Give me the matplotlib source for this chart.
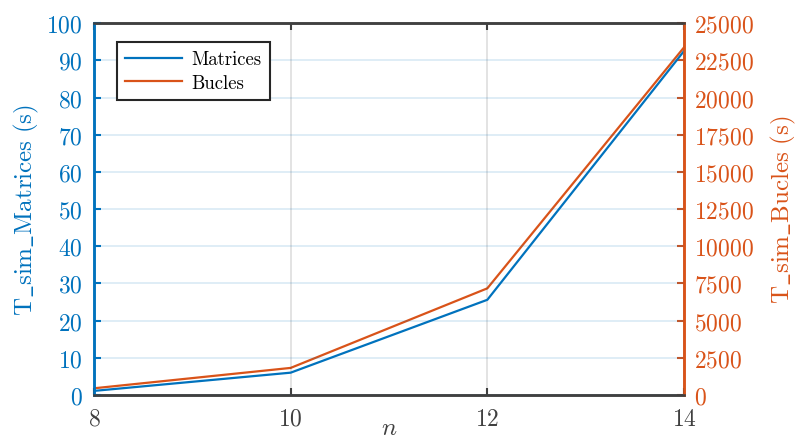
import matplotlib
matplotlib.use('Agg')
import matplotlib.pyplot as plt

plt.rcParams['font.family'] = 'serif'
plt.rcParams['font.serif'] = ['cmr10']
plt.rcParams['mathtext.fontset'] = 'cm'
plt.rcParams['axes.formatter.use_mathtext'] = True

# data
n = [8, 10, 12, 14]
t_matrices = [1.1, 6.0, 25.6, 92.5]
t_bucles = [450, 1820, 7170, 23370]

blue = '#0072BD'
orange = '#D95319'
dark = '#404040'

fig = plt.figure(figsize=(8, 4.39), dpi=100)
ax = fig.add_axes([0.1175, 0.098, 0.7375, 0.847])
ax2 = ax.twinx()

l1, = ax.plot(n, t_matrices, color=blue, lw=1.6, label='Matrices')
l2, = ax2.plot(n, t_bucles, color=orange, lw=1.6, label='Bucles')

ax.set_xlim(8, 14)
ax.set_ylim(0, 100)
ax2.set_ylim(0, 25000)
ax.set_xticks([8, 10, 12, 14])
ax.set_yticks(range(0, 101, 10))
ax2.set_yticks(range(0, 25001, 2500))

ax.yaxis.grid(True, color=blue, alpha=0.15, lw=1.2)
ax.xaxis.grid(True, color='#262626', alpha=0.15, lw=1.2)
ax.set_axisbelow(True)

ax.tick_params(axis='x', direction='in', length=5, width=1.5, colors=dark,
               labelsize=17, top=True, pad=9)
ax.tick_params(axis='y', direction='in', length=5, width=1.5, colors=blue,
               labelsize=17, pad=8)
ax2.tick_params(axis='y', direction='in', length=5, width=1.5, colors=orange,
                labelsize=17, pad=7)

for a in (ax, ax2):
    a.spines['top'].set_color(dark)
    a.spines['bottom'].set_color(dark)
    a.spines['left'].set_color(blue)
    a.spines['right'].set_color(orange)
    for s in a.spines.values():
        s.set_linewidth(1.8)

ax.set_ylabel(r'$\mathrm{T\_sim\_Matrices\ (s)}$', color=blue, fontsize=18, labelpad=4)
ax2.set_ylabel(r'$\mathrm{T\_sim\_Bucles\ (s)}$', color=orange, fontsize=18, labelpad=11)
ax.set_xlabel(r'$n$', color=dark, fontsize=18, labelpad=-9)

leg = ax.legend([l1, l2], ['Matrices', 'Bucles'], loc='upper left',
                bbox_to_anchor=(0.039, 0.949), borderaxespad=0, fontsize=13.5,
                fancybox=False, framealpha=1, edgecolor='#262626',
                handlelength=3.0, borderpad=0.45, labelspacing=0.3,
                handletextpad=0.5)
leg.get_frame().set_linewidth(1.5)
leg.set_zorder(10)
ax.set_zorder(ax2.get_zorder() + 1)
ax.patch.set_visible(False)

fig.savefig('out.png', dpi=100)
